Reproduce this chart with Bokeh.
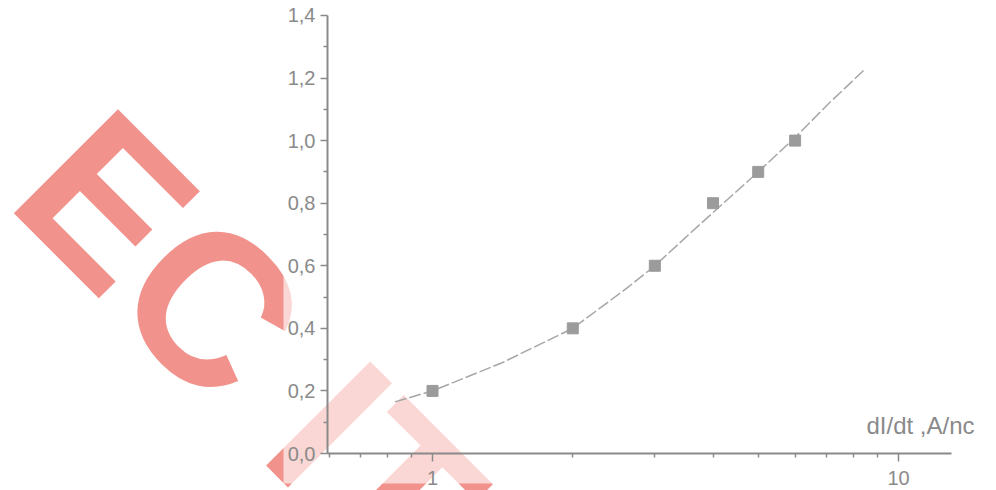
import math
from bokeh.plotting import figure
from bokeh.models import (Range1d, FixedTicker, CustomJSTickFormatter, Label,
                          BoxAnnotation)
from bokeh.embed import file_html
from bokeh.resources import INLINE

# ---- data ----
current_rate = [1, 2, 3, 4, 5, 6]                 # dI/dt
response = [0.2, 0.4, 0.6, 0.8, 0.9, 1.0]
fit_x = [0.83, 1.0, 1.41, 2.0, 2.62, 3.0, 3.58, 4.0, 5.0, 6.0, 7.1, 8.5]
fit_y = [0.165, 0.20, 0.29, 0.40, 0.53, 0.60, 0.705, 0.77, 0.90, 1.01, 1.12, 1.23]
x_major = [1, 10]
x_minor = [0.6, 0.7, 0.8, 0.9, 2, 3, 4, 5, 6, 7, 8, 9]
y_major = [0.0, 0.2, 0.4, 0.6, 0.8, 1.0, 1.2, 1.4]
y_minor = [0.1, 0.3, 0.5, 0.7, 0.9, 1.1, 1.3]
x_title = "dI/dt ,A/nc"
watermark = "EC IT"

# ---- pixel geometry of the reference (placement only) ----
W, H = 996, 490
X1_PX, DEC_PX = 432.0, 466.0      # x = 1 position, pixels per decade
Y0_PX, UNIT_PX = 453.0, 312.9     # y = 0 position, pixels per unit


def dx(px):
    return 10 ** ((px - X1_PX) / DEC_PX)


def dy(py):
    return (Y0_PX - py) / UNIT_PX


GRAY = "#8a8a8a"
FONT = "Liberation Sans"

p = figure(width=W, height=H, x_axis_type="log",
           x_range=Range1d(dx(0), dx(W)), y_range=Range1d(dy(H), dy(0)),
           output_backend="svg", toolbar_location=None,
           min_border=0)
p.background_fill_color = "white"
p.border_fill_color = "white"
p.outline_line_color = None
p.grid.visible = False

# watermark (behind everything)
wm = Label(x=dx(56.0), y=dy(150.1), text=watermark, angle=-math.pi / 4,
           text_font=FONT, text_font_style="bold", text_font_size="214px",
           text_color="#f1928c", text_align="left", text_baseline="alphabetic",
           level="image")
p.add_layout(wm)

# the scanned chart area lightens the watermark
veil = BoxAnnotation(left=dx(283), right=dx(3000), top=dy(-100), bottom=dy(483),
                     fill_color="white", fill_alpha=0.63, line_alpha=0,
                     level="underlay")
p.add_layout(veil)

p.line(fit_x, fit_y, line_color="#a6a6a6", line_width=1.5, line_dash="12 3")
p.scatter(current_rate, response, marker="square", size=11,
          fill_color="#9b9b9b", line_color="#9b9b9b")

xa = p.xaxis[0]
xa.ticker = FixedTicker(ticks=x_major, minor_ticks=x_minor)
xa.formatter = CustomJSTickFormatter(code="return String(tick);")
xa.fixed_location = 0
xa.bounds = (dx(327), dx(951))

ya = p.yaxis[0]
ya.ticker = FixedTicker(ticks=y_major, minor_ticks=y_minor)
ya.formatter = CustomJSTickFormatter(code="return tick.toFixed(1).replace('.', ',');")
ya.fixed_location = dx(327)
ya.bounds = (0, 1.4)

for ax in (xa, ya):
    ax.axis_line_color = GRAY
    ax.axis_line_width = 2
    ax.major_tick_line_color = GRAY
    ax.minor_tick_line_color = GRAY
    ax.major_tick_line_width = 1.5
    ax.minor_tick_line_width = 1.5
    ax.major_tick_in = 0
    ax.minor_tick_in = 0
    ax.major_label_text_color = GRAY
    ax.major_label_text_font = FONT
    ax.major_label_text_font_size = "20px"

xa.major_tick_out = 8
xa.minor_tick_out = 4
xa.major_label_standoff = 9
ya.major_tick_out = 7
ya.minor_tick_out = 4
ya.major_label_standoff = 5

title = Label(x=dx(866), y=dy(425), text=x_title, text_font=FONT,
              text_font_size="24px", text_color=GRAY,
              text_align="left", text_baseline="alphabetic")
p.add_layout(title)

open("out.html", "w").write(file_html(p, INLINE))
